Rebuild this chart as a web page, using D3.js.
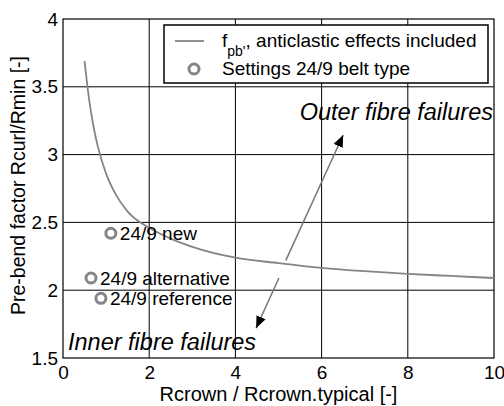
<!DOCTYPE html>
<html><head><meta charset="utf-8">
<script src="https://cdn.jsdelivr.net/npm/d3@7"></script>
<style>
body{margin:0;background:#fff;}
svg{display:block;font-family:"Liberation Sans",Arial,Helvetica,sans-serif;}
</style></head>
<body>
<svg id="c" width="504" height="406"></svg>
<script>
// curve f_pb (anticlastic effects included)
const curveX = [0.5,0.6,0.7,0.8,1.0,1.2,1.5,2,2.5,3,4,5,6,7,8,9,10];
const curveY = [3.69,3.42,3.22,3.07,2.86,2.72,2.58,2.46,2.38,2.32,2.24,2.20,2.165,2.14,2.12,2.105,2.09];
// settings points
const pointLabels = ["24/9 new","24/9 alternative","24/9 reference"];
const pointX = [1.11,0.65,0.88];
const pointY = [2.42,2.09,1.94];
// annotation arrows
const arrowFromX = [5.17,5.01];
const arrowFromY = [2.22,2.09];
const arrowToX = [6.5,4.48];
const arrowToY = [3.145,1.72];
const xTicks = [0,2,4,6,8,10];
const yTicks = [1.5,2,2.5,3,3.5,4];
const yTickLabels = ["1.5","2","2.5","3","3.5","4"];

const W=504,H=406,m={l:63,r:10,t:19,b:48};
const svg=d3.select("#c");
const x=d3.scaleLinear().domain([0,10]).range([m.l,W-m.r]);
const y=d3.scaleLinear().domain([1.5,4]).range([H-m.b,m.t]);

// grid
svg.append("g").selectAll("line").data(xTicks.slice(1,-1)).join("line")
 .attr("x1",d=>x(d)).attr("x2",d=>x(d)).attr("y1",y(1.5)).attr("y2",y(4))
 .attr("stroke","#000").attr("stroke-width",1);
svg.append("g").selectAll("line").data(yTicks.slice(1,-1)).join("line")
 .attr("y1",d=>y(d)).attr("y2",d=>y(d)).attr("x1",x(0)).attr("x2",x(10))
 .attr("stroke","#000").attr("stroke-width",1);

// axes
const gx=svg.append("g").attr("transform",`translate(0,${y(1.5)})`)
 .call(d3.axisBottom(x).tickValues(xTicks).tickSize(0).tickPadding(8).tickFormat(d3.format("d")));
const gy=svg.append("g").attr("transform",`translate(${x(0)},0)`)
 .call(d3.axisLeft(y).tickValues(yTicks).tickSize(0).tickPadding(5).tickFormat((d,i)=>yTickLabels[i]));
[gx,gy].forEach(g=>{g.select(".domain").remove();
 g.selectAll("text").attr("font-size",19).attr("fill","#000").attr("font-family","Liberation Sans,Arial,sans-serif");});

// frame
svg.append("rect").attr("x",x(0)).attr("y",y(4)).attr("width",x(10)-x(0)).attr("height",y(1.5)-y(4))
 .attr("fill","none").attr("stroke","#000").attr("stroke-width",1.2);

// curve
const line=d3.line().x(d=>x(d[0])).y(d=>y(d[1])).curve(d3.curveMonotoneX);
svg.append("path").datum(curveX.map((v,i)=>[v,curveY[i]])).attr("d",line)
 .attr("fill","none").attr("stroke","#858585").attr("stroke-width",1.8);

// arrows
const defs=svg.append("defs");
defs.append("marker").attr("id","ah").attr("viewBox","0 0 12 10").attr("refX",12).attr("refY",5)
 .attr("markerWidth",12).attr("markerHeight",10).attr("markerUnits","userSpaceOnUse").attr("orient","auto")
 .append("path").attr("d","M0,0L12,5L0,10Z").attr("fill","#000");
svg.append("g").selectAll("line").data(arrowFromX).join("line")
 .attr("x1",(d,i)=>x(d)).attr("y1",(d,i)=>y(arrowFromY[i]))
 .attr("x2",(d,i)=>x(arrowToX[i])).attr("y2",(d,i)=>y(arrowToY[i]))
 .attr("stroke","#777").attr("stroke-width",1.5).attr("marker-end","url(#ah)");

// points
svg.append("g").selectAll("circle").data(pointX).join("circle")
 .attr("cx",d=>x(d)).attr("cy",(d,i)=>y(pointY[i])).attr("r",5)
 .attr("fill","none").attr("stroke","#858585").attr("stroke-width",3);
svg.append("g").selectAll("text").data(pointLabels).join("text")
 .attr("x",(d,i)=>x(pointX[i])+9).attr("y",(d,i)=>y(pointY[i])+7)
 .attr("font-size",19).text(d=>d);

// italic annotations
svg.append("text").attr("x",x(10)-1).attr("y",120).attr("text-anchor","end")
 .attr("font-size",23.5).attr("font-style","italic").text("Outer fibre failures");
svg.append("text").attr("x",x(0)+5).attr("y",350)
 .attr("font-size",23.5).attr("font-style","italic").text("Inner fibre failures");

// legend
const lg=svg.append("g");
lg.append("rect").attr("x",164).attr("y",25).attr("width",324).attr("height",58)
 .attr("fill","#fff").attr("stroke","#000").attr("stroke-width",1.5);
lg.append("line").attr("x1",175).attr("x2",204).attr("y1",41).attr("y2",41)
 .attr("stroke","#858585").attr("stroke-width",1.8);
lg.append("circle").attr("cx",194).attr("cy",69).attr("r",5)
 .attr("fill","none").attr("stroke","#858585").attr("stroke-width",3);
const t1=lg.append("text").attr("x",222).attr("y",47).attr("font-size",19);
t1.append("tspan").text("f");
t1.append("tspan").attr("dy",9).attr("font-size",14).text("pb'");
t1.append("tspan").attr("dy",-9).text(", anticlastic effects included");
lg.append("text").attr("x",222).attr("y",75).attr("font-size",19).text("Settings 24/9 belt type");

// axis labels
svg.append("text").attr("x",(x(0)+x(10))/2).attr("y",401).attr("text-anchor","middle")
 .attr("font-size",20).text("Rcrown / Rcrown.typical [-]");
svg.append("text").attr("transform",`translate(25,${(y(1.5)+y(4))/2 - 3}) rotate(-90)`)
 .attr("text-anchor","middle").attr("font-size",19.5).text("Pre-bend factor Rcurl/Rmin [-]");
</script>
</body></html>
